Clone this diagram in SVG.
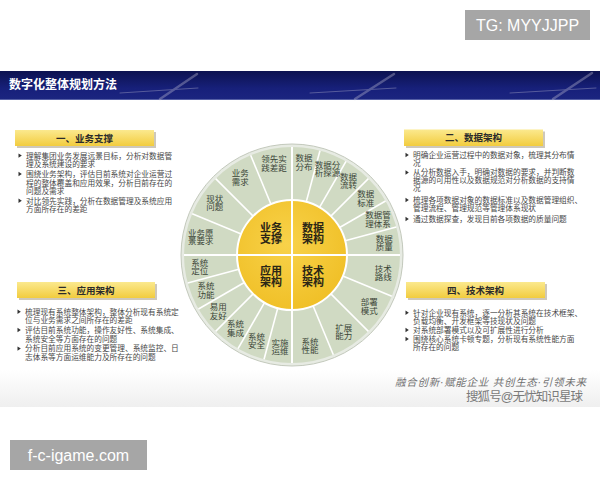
<svg xmlns="http://www.w3.org/2000/svg" xmlns:xlink="http://www.w3.org/1999/xlink" width="600" height="480" viewBox="0 0 600 480">
<defs>
<linearGradient id="band" x1="0" y1="0" x2="0" y2="1">
<stop offset="0" stop-color="#0c1250"/><stop offset="0.6" stop-color="#17207a"/><stop offset="1" stop-color="#1b2580"/>
</linearGradient>
<linearGradient id="hdg" x1="0" y1="0" x2="0" y2="1">
<stop offset="0" stop-color="#fbe98e"/><stop offset="1" stop-color="#f2cc3e"/>
</linearGradient>
<radialGradient id="core" cx="0.45" cy="0.4" r="0.7">
<stop offset="0" stop-color="#f8d24a"/><stop offset="1" stop-color="#efbd22"/>
</radialGradient>
<linearGradient id="foot" x1="0" y1="0" x2="0" y2="1">
<stop offset="0" stop-color="#ffffff"/><stop offset="1" stop-color="#efefef"/>
</linearGradient>
<path id="tri" d="M0,-2.2 L3.3,0 L0,2.2Z" fill="#333"/>
<style>
text{font-family:'Liberation Sans','Noto Sans CJK SC',sans-serif}
.lbl{font-size:8.5px;fill:#3a4537;text-anchor:middle}
.core{font-size:11px;font-weight:700;fill:#2b2616;text-anchor:middle}
.bt{font-size:7.7px;fill:#474747}
.hd{font-size:9.5px;font-weight:700;fill:#2b2b2b;text-anchor:middle}
.div{stroke:#ffffff;stroke-width:1.6;fill:none}
.wm{font-size:16px;fill:#ffffff}
.sh{fill:#b3ab95;opacity:0.65}
</style>
</defs>
<rect width="600" height="480" fill="#ffffff"/>
<rect x="0" y="370" width="600" height="37" fill="url(#foot)"/>

<g id="tg-badge">
<rect x="465" y="10" width="125" height="30" fill="#a6a6a6"/>
<text class="wm" x="527.5" y="31" text-anchor="middle">TG: MYYJJPP</text>
</g>

<g id="title-bar">
<rect x="0" y="71" width="600" height="29" fill="url(#band)"/>
<line x1="0" y1="99.5" x2="600" y2="99.5" stroke="#7d86bf" stroke-width="1" opacity="0.6"/>
<g stroke="#c9c6d8" stroke-linecap="round" opacity="0.35">
<line x1="160" y1="99" x2="197" y2="74" stroke-width="2.5"/>
<line x1="120" y1="93" x2="198" y2="88" stroke-width="1"/>
<line x1="355" y1="99" x2="394" y2="74" stroke-width="2.5"/>
<line x1="310" y1="93" x2="396" y2="88" stroke-width="1"/>
<line x1="553" y1="99" x2="592" y2="73" stroke-width="2.5"/>
<line x1="510" y1="93" x2="596" y2="88" stroke-width="1"/>
</g>
<text x="9" y="89" font-size="12" font-weight="700" fill="#ffffff">数字化整体规划方法</text>
</g>

<g id="wheel">
<circle cx="292" cy="255" r="111" fill="#e7ebe3" stroke="#c3c9bc" stroke-width="1"/>
<circle cx="292" cy="255" r="108" fill="#d0dac3"/>
<circle cx="292" cy="255" r="55" fill="url(#core)" stroke="#ffffff" stroke-width="2"/>
<g id="dividers" class="div">
<line x1="292" y1="147" x2="292" y2="363" stroke-width="2"/>
<line x1="184" y1="255" x2="400" y2="255" stroke-width="2"/>
<line x1="270.95" y1="204.19" x2="250.67" y2="155.22"/>
<line x1="253.11" y1="216.11" x2="215.63" y2="178.63"/>
<line x1="241.19" y1="233.95" x2="192.22" y2="213.67"/>
<line x1="306.24" y1="201.87" x2="319.95" y2="150.68"/>
<line x1="319.5" y1="207.37" x2="346" y2="161.47"/>
<line x1="330.89" y1="216.11" x2="368.37" y2="178.63"/>
<line x1="339.63" y1="227.5" x2="385.53" y2="201"/>
<line x1="345.13" y1="240.76" x2="396.32" y2="227.05"/>
<line x1="342.81" y1="276.05" x2="391.78" y2="296.33"/>
<line x1="330.89" y1="293.89" x2="368.37" y2="331.37"/>
<line x1="313.05" y1="305.81" x2="333.33" y2="354.78"/>
<line x1="238.87" y1="269.24" x2="187.68" y2="282.95"/>
<line x1="244.37" y1="282.5" x2="198.47" y2="309"/>
<line x1="253.11" y1="293.89" x2="215.63" y2="331.37"/>
<line x1="264.5" y1="302.63" x2="238" y2="348.53"/>
<line x1="277.76" y1="308.13" x2="264.05" y2="359.32"/>
</g>
</g>

<g id="core-yewu"><text class="core" x="271" y="231.5">业务</text><text class="core" x="271" y="243">支撑</text></g>
<g id="core-shuju"><text class="core" x="313" y="231.5">数据</text><text class="core" x="313" y="243">架构</text></g>
<g id="core-yingyong"><text class="core" x="271" y="274.5">应用</text><text class="core" x="271" y="286">架构</text></g>
<g id="core-jishu"><text class="core" x="313" y="274.5">技术</text><text class="core" x="313" y="286">架构</text></g>

<g id="seg-lingxian"><text class="lbl" x="274" y="162.4">领先实</text><text class="lbl" x="274" y="170.9">践差距</text></g>
<g id="seg-yewuxuqiu"><text class="lbl" x="240.3" y="176.3">业务</text><text class="lbl" x="240.3" y="184.8">需求</text></g>
<g id="seg-xianzhuang"><text class="lbl" x="214.7" y="201.9">现状</text><text class="lbl" x="214.7" y="210.4">问题</text></g>
<g id="seg-yuanjing"><text class="lbl" x="200.8" y="235.5">业务愿</text><text class="lbl" x="200.8" y="244">景要求</text></g>

<g id="seg-fenbu"><text class="lbl" x="304.1" y="161.4">数据</text><text class="lbl" x="304.1" y="169.9">分布</text></g>
<g id="seg-tanyuan"><text class="lbl" x="327.6" y="167.7">数据分</text><text class="lbl" x="327.6" y="176.2">析探源</text></g>
<g id="seg-liuzhuan"><text class="lbl" x="348.6" y="179.8">数据</text><text class="lbl" x="348.6" y="188.3">流转</text></g>
<g id="seg-biaozhun"><text class="lbl" x="365.8" y="197">数据</text><text class="lbl" x="365.8" y="205.5">标准</text></g>
<g id="seg-guanli"><text class="lbl" x="377.9" y="218">数据管</text><text class="lbl" x="377.9" y="226.5">理体系</text></g>
<g id="seg-zhiliang"><text class="lbl" x="384.2" y="241.5">数据</text><text class="lbl" x="384.2" y="250">质量</text></g>

<g id="seg-luxian"><text class="lbl" x="383.2" y="271.7">技术</text><text class="lbl" x="383.2" y="280.2">路线</text></g>
<g id="seg-bushu"><text class="lbl" x="369.3" y="305.3">部署</text><text class="lbl" x="369.3" y="313.8">模式</text></g>
<g id="seg-kuozhan"><text class="lbl" x="343.7" y="330.9">扩展</text><text class="lbl" x="343.7" y="339.4">能力</text></g>
<g id="seg-xingneng"><text class="lbl" x="310.1" y="344.8">系统</text><text class="lbl" x="310.1" y="353.3">性能</text></g>

<g id="seg-dingwei"><text class="lbl" x="199.8" y="265.7">系统</text><text class="lbl" x="199.8" y="274.2">定位</text></g>
<g id="seg-gongneng"><text class="lbl" x="206.1" y="289.2">系统</text><text class="lbl" x="206.1" y="297.7">功能</text></g>
<g id="seg-yiyong"><text class="lbl" x="218.2" y="310.2">易用</text><text class="lbl" x="218.2" y="318.7">友好</text></g>
<g id="seg-jicheng"><text class="lbl" x="235.4" y="327.4">系统</text><text class="lbl" x="235.4" y="335.9">集成</text></g>
<g id="seg-anquan"><text class="lbl" x="256.4" y="339.5">系统</text><text class="lbl" x="256.4" y="348">安全</text></g>
<g id="seg-yunwei"><text class="lbl" x="279.9" y="345.8">实施</text><text class="lbl" x="279.9" y="354.3">运维</text></g>

<g id="panel-1">
<rect class="sh" x="17" y="132" width="139" height="16"/>
<rect x="15" y="130" width="139" height="16" fill="url(#hdg)"/>
<text class="hd" x="84.5" y="141.5">一、业务支撑</text>
<use xlink:href="#tri" x="18.5" y="155.6"/>
<use xlink:href="#tri" x="18.5" y="174"/>
<use xlink:href="#tri" x="18.5" y="200.8"/>
<text class="bt" x="26" y="158.5">理解集团业务发展远景目标，分析对数据管</text>
<text class="bt" x="26" y="167">理及系统建设的要求</text>
<text class="bt" x="26" y="176.9">围绕业务架构，评估目前系统对企业运营过</text>
<text class="bt" x="26" y="185.5">程的整体覆盖和应用效果，分析目前存在的</text>
<text class="bt" x="26" y="194">问题及需求</text>
<text class="bt" x="26" y="203.7">对比领先实践，分析在数据管理及系统应用</text>
<text class="bt" x="26" y="212.4">方面所存在的差距</text>
</g>

<g id="panel-3">
<rect class="sh" x="19" y="284" width="138" height="16"/>
<rect x="17" y="282" width="138" height="16" fill="url(#hdg)"/>
<text class="hd" x="86" y="293.5">三、应用架构</text>
<use xlink:href="#tri" x="17.5" y="311.7"/>
<use xlink:href="#tri" x="17.5" y="330"/>
<use xlink:href="#tri" x="17.5" y="348.6"/>
<text class="bt" x="25" y="314.6">梳理现有系统整体架构，整体分析现有系统定</text>
<text class="bt" x="25" y="323.2">位与业务需求之间所存在的差距</text>
<text class="bt" x="25" y="332.9">评估目前系统功能，操作友好性、系统集成、</text>
<text class="bt" x="25" y="341.5">系统安全等方面存在的问题</text>
<text class="bt" x="25" y="351.4">分析目前应用系统的变更管理、系统监控、日</text>
<text class="bt" x="25" y="360.1">志体系等方面运维能力及所存在的问题</text>
</g>

<g id="panel-2">
<rect class="sh" x="406" y="131.5" width="139" height="16.5"/>
<rect x="404" y="129.5" width="139" height="16.5" fill="url(#hdg)"/>
<text class="hd" x="473.5" y="141.2">二、数据架构</text>
<use xlink:href="#tri" x="405.5" y="155"/>
<use xlink:href="#tri" x="405.5" y="172.5"/>
<use xlink:href="#tri" x="405.5" y="200"/>
<use xlink:href="#tri" x="405.5" y="219"/>
<text class="bt" x="413" y="157.8">明确企业运营过程中的数据对象，梳理其分布情</text>
<text class="bt" x="413" y="165.8">况</text>
<text class="bt" x="413" y="175.3">从分析数据入手，明确对数据的要求，并判断数</text>
<text class="bt" x="413" y="183.3">据源的可用性以及数据规范对分析数据的支持情</text>
<text class="bt" x="413" y="191.3">况</text>
<text class="bt" x="413" y="202.8">梳理各项数据对象的数据标准以及数据管理组织、</text>
<text class="bt" x="413" y="210.8">管理流程、管理规范等管理体系现状</text>
<text class="bt" x="413" y="221.8">通过数据探查，发现目前各项数据的质量问题</text>
</g>

<g id="panel-4">
<rect class="sh" x="408" y="284" width="139" height="16"/>
<rect x="406" y="282" width="139" height="16" fill="url(#hdg)"/>
<text class="hd" x="475.5" y="293.5">四、技术架构</text>
<use xlink:href="#tri" x="405.5" y="312.7"/>
<use xlink:href="#tri" x="405.5" y="330"/>
<use xlink:href="#tri" x="405.5" y="339"/>
<text class="bt" x="413" y="315.5">针对企业现有系统，逐一分析其系统在技术框架、</text>
<text class="bt" x="413" y="323.5">负载均衡、开发框架等技现状及问题</text>
<text class="bt" x="413" y="332.8">对系统部署模式以及可扩展性进行分析</text>
<text class="bt" x="413" y="341.8">围绕核心系统卡顿专题，分析现有系统性能方面</text>
<text class="bt" x="413" y="350.1">所存在的问题</text>
</g>

<g id="footer">
<text x="395" y="385.5" font-size="10.5" font-style="italic" fill="#707070" textLength="191" lengthAdjust="spacing">融合创新·赋能企业  共创生态·引领未来</text>
<text x="466" y="400.5" font-size="12.5" fill="#7a7a7a" textLength="117" lengthAdjust="spacing">搜狐号@无忧知识星球</text>
</g>

<g id="site-badge">
<rect x="10" y="440" width="137" height="30" fill="#a6a6a6"/>
<text class="wm" x="78.5" y="461" text-anchor="middle" font-size="17">f-c-igame.com</text>
</g>
</svg>
